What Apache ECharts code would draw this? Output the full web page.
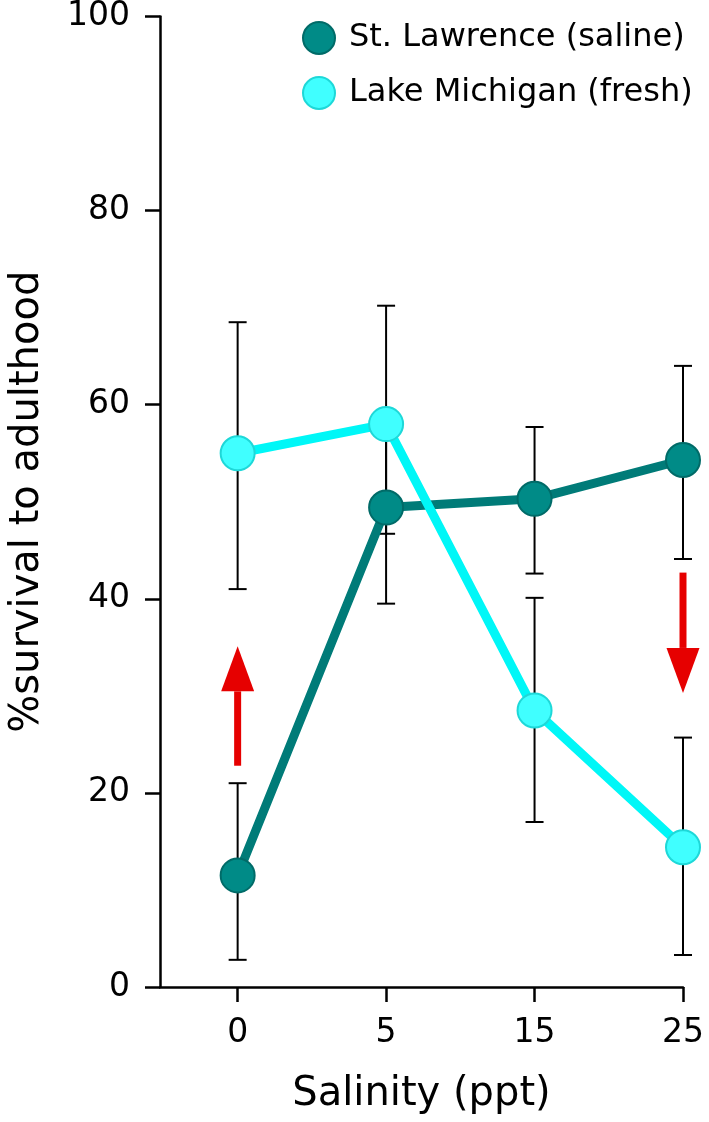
<!DOCTYPE html>
<html>
<head>
<meta charset="utf-8">
<script src="https://cdn.jsdelivr.net/npm/echarts@6/dist/echarts.min.js"></script>
<style>html,body{margin:0;padding:0;background:#fff;}#chart{width:709px;height:1122px;}</style>
</head>
<body>
<div id="chart"></div>
<script>
var categories = ['0', '5', '15', '25'];
var yTicks = [0, 20, 40, 60, 80, 100];
var slName = 'St. Lawrence (saline)';
var slMean = [11.5, 49.4, 50.3, 54.3];
var slLow = [2.8, 39.5, 42.6, 44.1];
var slHigh = [21.0, 59.3, 57.7, 64.0];
var lmName = 'Lake Michigan (fresh)';
var lmMean = [55.0, 58.0, 28.5, 14.4];
var lmLow = [41.0, 46.7, 17.0, 3.3];
var lmHigh = [68.5, 70.2, 40.1, 25.7];
// arrows: [category index, start value, tip value]
var arrows = [[0, 22.8, 35.1], [3, 42.7, 30.3]];

var FONT = 'DejaVu Sans';
var chart = echarts.init(document.getElementById('chart'));

function pts(arr) { return arr.map(function (v, i) { return [i, v]; }); }
function errData(lo, hi) { return lo.map(function (v, i) { return [i, v, hi[i]]; }); }

function errRender(params, api) {
  var x = api.value(0);
  var lo = api.coord([x, api.value(1)]);
  var hi = api.coord([x, api.value(2)]);
  var hw = 9;
  var st = { stroke: '#000', lineWidth: 2 };
  return {
    type: 'group',
    children: [
      { type: 'line', shape: { x1: lo[0], y1: lo[1], x2: hi[0], y2: hi[1] }, style: st },
      { type: 'line', shape: { x1: lo[0] - hw, y1: lo[1], x2: lo[0] + hw, y2: lo[1] }, style: st },
      { type: 'line', shape: { x1: hi[0] - hw, y1: hi[1], x2: hi[0] + hw, y2: hi[1] }, style: st }
    ]
  };
}

function arrowRender(params, api) {
  var x = api.value(0);
  var s = api.coord([x, api.value(1)]);
  var t = api.coord([x, api.value(2)]);
  var dir = t[1] < s[1] ? -1 : 1;
  var headLen = 45, headW = 16.5, shaftW = 3.5;
  var baseY = t[1] - dir * headLen;
  return {
    type: 'group',
    children: [
      { type: 'rect', shape: { x: s[0] - shaftW, y: Math.min(s[1], baseY), width: shaftW * 2, height: Math.abs(baseY - s[1]) }, style: { fill: '#e60000' } },
      { type: 'polygon', shape: { points: [[t[0], t[1]], [t[0] - headW, baseY], [t[0] + headW, baseY]] }, style: { fill: '#e60000' } }
    ]
  };
}

chart.setOption({
  animation: false,
  backgroundColor: '#fff',
  grid: { left: 158, right: 26, top: 14, bottom: 135, containLabel: false },
  legend: {
    orient: 'vertical',
    left: 297,
    top: 16,
    itemWidth: 32,
    itemHeight: 32,
    itemGap: 21,
    icon: 'circle',
    textStyle: { fontFamily: FONT, fontSize: 32, color: '#000', padding: [0, 0, 0, 9] },
    data: [slName, lmName]
  },
  xAxis: {
    type: 'value',
    min: -0.523,
    max: 3,
    axisLine: { show: true, onZero: false, lineStyle: { color: '#000', width: 2.5 } },
    axisTick: { show: true, length: 15, lineStyle: { color: '#000', width: 2.5 }, customValues: [0, 1, 2, 3] },
    axisLabel: {
      customValues: [0, 1, 2, 3],
      margin: 30,
      fontFamily: FONT, fontSize: 33, color: '#000',
      formatter: function (v) { return categories[Math.round(v)]; }
    },
    splitLine: { show: false },
    name: 'Salinity (ppt)',
    nameLocation: 'middle',
    nameGap: 88,
    nameTextStyle: { fontFamily: FONT, fontSize: 40, color: '#000' }
  },
  yAxis: {
    type: 'value',
    min: 0,
    max: 100,
    interval: 20,
    axisLine: { show: true, onZero: false, lineStyle: { color: '#000', width: 2.5 } },
    axisTick: { show: true, length: 15, lineStyle: { color: '#000', width: 2.5 } },
    axisLabel: {
      margin: 30, fontFamily: FONT, fontSize: 33, color: '#000',
      formatter: function (v) { return yTicks.indexOf(v) >= 0 ? String(v) : ''; }
    },
    splitLine: { show: false },
    name: '%survival to adulthood',
    nameLocation: 'middle',
    nameGap: 112,
    nameTextStyle: { fontFamily: FONT, fontSize: 40, color: '#000' }
  },
  series: [
    { type: 'custom', name: 'errSL', renderItem: errRender, data: errData(slLow, slHigh), z: 1, silent: true },
    { type: 'custom', name: 'errLM', renderItem: errRender, data: errData(lmLow, lmHigh), z: 1, silent: true },
    { type: 'custom', name: 'arrows', renderItem: arrowRender, data: arrows, z: 1, silent: true },
    {
      type: 'line', name: slName, data: pts(slMean), z: 3,
      symbol: 'circle', symbolSize: 34,
      lineStyle: { color: '#007b78', width: 9 },
      itemStyle: { color: '#008b87', borderColor: '#006b68', borderWidth: 2 }
    },
    {
      type: 'line', name: lmName, data: pts(lmMean), z: 4,
      symbol: 'circle', symbolSize: 34,
      lineStyle: { color: '#00f7f7', width: 9 },
      itemStyle: { color: '#40ffff', borderColor: '#1ed8d8', borderWidth: 2 }
    }
  ]
});
</script>
</body>
</html>
